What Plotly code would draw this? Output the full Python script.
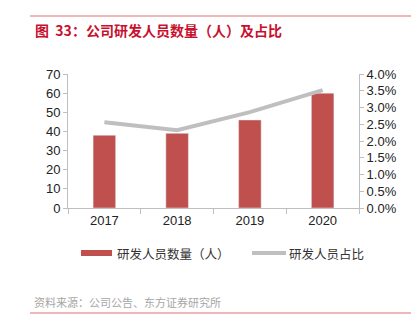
import plotly.graph_objects as go

years = ["2017", "2018", "2019", "2020"]
staff = [38, 39, 46, 60]
ratio = [0.0256, 0.0232, 0.0286, 0.0352]

W, H = 418, 329
L, R, T, B = 68, 359, 74, 208

def px(x):
    return (x - L) / (R - L)

def py(y):
    return (B - y) / (B - T)

fig = go.Figure()
fig.add_trace(go.Bar(x=years, y=staff, name="研发人员数量（人）", marker_color="#C0504D",
                     width=0.31, showlegend=False))
fig.add_trace(go.Scatter(x=years, y=ratio, name="研发人员占比", yaxis="y2", mode="lines",
                         line=dict(color="#BFBFBF", width=4), showlegend=False))

tick_font = dict(family="Liberation Sans, Arial", size=13, color="#222")
axis_col = "#BFBFBF"

fig.update_layout(
    width=W, height=H,
    margin=dict(l=L, r=W - R, t=T, b=H - B),
    paper_bgcolor="white", plot_bgcolor="white",
    showlegend=False,
    xaxis=dict(type="category", showline=True, linecolor=axis_col, ticks="outside",
               tickson="boundaries", ticklen=5, tickcolor=axis_col, tickfont=tick_font,
               showgrid=False),
    yaxis=dict(range=[0, 70], dtick=10, showline=True, linecolor=axis_col, ticks="outside",
               ticklen=4, tickcolor=axis_col, tickfont=tick_font, showgrid=False, zeroline=False),
    yaxis2=dict(range=[0, 0.04], dtick=0.005, tickformat=".1%", overlaying="y", side="right",
                showline=True, linecolor=axis_col, ticks="outside", ticklen=4, tickcolor=axis_col,
                tickfont=tick_font, showgrid=False, zeroline=False),
)

shapes = []
# top and bottom rules
shapes.append(dict(type="line", xref="paper", yref="paper", x0=px(30), x1=px(411), y0=py(16), y1=py(16),
                   line=dict(color="#E07070", width=1.2)))
shapes.append(dict(type="line", xref="paper", yref="paper", x0=px(30), x1=px(411), y0=py(313), y1=py(313),
                   line=dict(color="#E07070", width=1.2)))
# legend symbols
shapes.append(dict(type="rect", xref="paper", yref="paper", x0=px(81), x1=px(112), y0=py(256), y1=py(250),
                   fillcolor="#C0504D", line=dict(width=0)))
shapes.append(dict(type="line", xref="paper", yref="paper", x0=px(252), x1=px(286), y0=py(253), y1=py(253),
                   line=dict(color="#BFBFBF", width=4)))
fig.update_layout(shapes=shapes)

ann = []
ann.append(dict(text="<b>图  33：公司研发人员数量（人）及占比</b>", xref="paper", yref="paper",
                x=px(33), y=py(30), xanchor="left", yanchor="middle", showarrow=False,
                font=dict(family="Noto Sans CJK SC", size=14, color="#C8102E")))
ann.append(dict(text="研发人员数量（人）", xref="paper", yref="paper",
                x=px(115), y=py(253), xanchor="left", yanchor="middle", showarrow=False,
                font=dict(family="Noto Sans CJK SC", size=12.5, color="#333")))
ann.append(dict(text="研发人员占比", xref="paper", yref="paper",
                x=px(287), y=py(253), xanchor="left", yanchor="middle", showarrow=False,
                font=dict(family="Noto Sans CJK SC", size=12.5, color="#333")))
ann.append(dict(text="资料来源：公司公告、东方证券研究所", xref="paper", yref="paper",
                x=px(32), y=py(302), xanchor="left", yanchor="middle", showarrow=False,
                font=dict(family="Noto Sans CJK SC", size=11, color="#A6A6A6")))
fig.update_layout(annotations=ann)

fig.write_html("out.html")
